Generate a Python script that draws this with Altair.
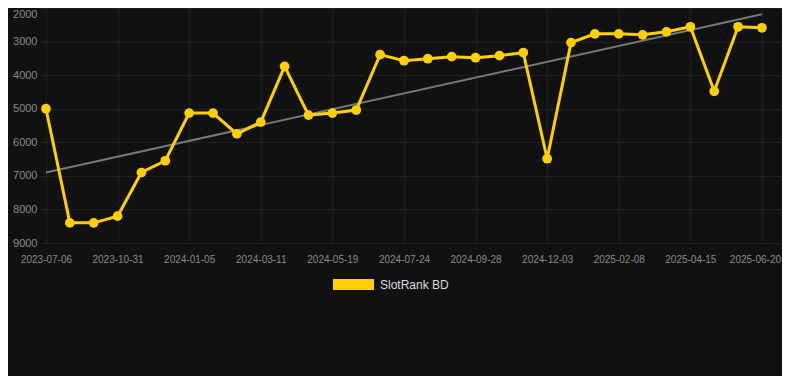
import altair as alt
import pandas as pd

ranks = [5000, 8400, 8400, 8200, 6900, 6550, 5130, 5130, 5750, 5400, 3740,
         5190, 5130, 5040, 3390, 3570, 3510, 3450, 3480, 3420, 3330, 6490,
         3030, 2770, 2770, 2800, 2710, 2560, 4480, 2560, 2590]
tick_labels = ["2023-07-06", "2023-10-31", "2024-01-05", "2024-03-11",
               "2024-05-19", "2024-07-24", "2024-09-28", "2024-12-03",
               "2025-02-08", "2025-04-15", "2025-06-20"]
y_ticks = [2000, 3000, 4000, 5000, 6000, 7000, 8000, 9000]
series_name = "SlotRank BD"

df = pd.DataFrame({"idx": list(range(len(ranks))), "rank": ranks,
                   "series": [series_name] * len(ranks)})

label_expr = "[" + ",".join(f"'{l}'" for l in tick_labels) + "][datum.value/3]"

GRID = "#1f1f1f"
LABEL = "#8a8a8a"
YELLOW = "#FFD000"

x = alt.X("idx:Q",
          scale=alt.Scale(domain=[-0.25, 30.84], nice=False, zero=False),
          axis=alt.Axis(values=list(range(0, 31, 3)), labelExpr=label_expr,
                        title=None, grid=True, domain=False, ticks=False,
                        labelFontSize=10, labelColor=LABEL, labelPadding=11,
                        gridColor=GRID, labelFlush=False,
                        labelOffset={"expr": "datum.value == 30 ? -7 : 0"}))
y = alt.Y("rank:Q",
          scale=alt.Scale(domain=[2000, 9000], reverse=True, nice=False, zero=False),
          axis=alt.Axis(values=y_ticks, title=None, domain=False, ticks=False,
                        labelFontSize=11, labelColor=LABEL, labelPadding=3,
                        gridColor=GRID, format="d",
                        labelBaseline={"expr": "datum.value == 2000 ? 'top' : 'middle'"}))

base = alt.Chart(df)

trend = base.transform_regression("idx", "rank").mark_line(
    color="#777777", strokeWidth=2).encode(x=x, y=y)

line = base.mark_line(color=YELLOW, strokeWidth=3).encode(x=x, y=y)

points = base.mark_point(filled=True, size=95, opacity=1).encode(
    x=x, y=y,
    color=alt.Color("series:N", scale=alt.Scale(range=[YELLOW]),
                    legend=alt.Legend(orient="none", legendX=293, legendY=256,
                                      title=None,
                                      symbolType="M-1,-0.27H1V0.27H-1Z",
                                      symbolSize=1681, symbolStrokeWidth=0,
                                      symbolOpacity=1,
                                      labelFontSize=12, labelColor="#dddddd",
                                      labelOffset=6)))

chart = alt.layer(trend, line, points).properties(
    width=742, height=235,
    padding={"left": 32, "top": 0, "right": 0, "bottom": 133},
    autosize=alt.AutoSizeParams(type="none"),
    background="#111111",
).configure(font="Liberation Sans").configure_view(stroke=None)

chart.save("out.html", embed_options={"renderer": "svg", "actions": False})
